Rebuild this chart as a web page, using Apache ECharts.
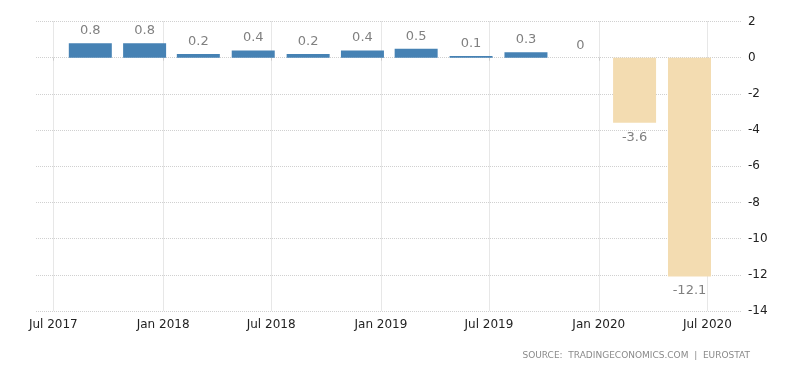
<!DOCTYPE html>
<html><head><meta charset="utf-8">
<script src="https://cdn.jsdelivr.net/npm/echarts@6/dist/echarts.min.js"></script>
<style>html,body{margin:0;padding:0;background:#fff}#c{width:800px;height:373px}</style>
</head><body><div id="c"></div>
<script>
var quarters = ['2017-09-01','2017-12-01','2018-03-01','2018-06-01','2018-09-01','2018-12-01','2019-03-01','2019-06-01','2019-09-01','2019-12-01','2020-03-01','2020-06-01'];
var values = [0.8,0.8,0.2,0.4,0.2,0.4,0.5,0.1,0.3,0,-3.6,-12.1];
var highlighted = [false,false,false,false,false,false,false,false,false,false,true,true];
var xTickDates = ['2017-07-01','2018-01-01','2018-07-01','2019-01-01','2019-07-01','2020-01-01','2020-07-01'];
var yTicks = [2,0,-2,-4,-6,-8,-10,-12,-14];
var sourceText = 'SOURCE:  TRADINGECONOMICS.COM  |  EUROSTAT';

var months = ['Jan','Feb','Mar','Apr','May','Jun','Jul','Aug','Sep','Oct','Nov','Dec'];
function ts(d){return new Date(d+'T00:00:00Z').getTime();}
var tickTs = xTickDates.map(ts);
var data = quarters.map(function(q,i){
  var v = values[i];
  return {
    value:[ts(q), v],
    itemStyle:{color: highlighted[i] ? '#f3dcb1' : '#4682b4'},
    label:{position: v < 0 ? 'bottom' : 'top', distance: v < 0 ? 8 : 6}
  };
});
var chart = echarts.init(document.getElementById('c'), null, {renderer:'canvas'});
chart.setOption({
  animation:false,
  grid:{left:36,right:58,top:21.5,bottom:62,containLabel:false},
  xAxis:{
    type:'value',
    min:ts('2017-06-02'),
    max:ts('2020-08-28'),
    axisLine:{show:false},
    axisTick:{show:true,customValues:tickTs,length:3,lineStyle:{color:'#ccc'}},
    axisLabel:{customValues:tickTs,color:'#222',fontSize:12,fontFamily:'DejaVu Sans',margin:8,
      formatter:function(v){var d=new Date(v);return months[d.getUTCMonth()]+' '+d.getUTCFullYear();}},
    splitLine:{show:true,lineStyle:{color:'#d0d0d0',type:'dotted',width:1}}
  },
  yAxis:{
    type:'value',position:'right',min:yTicks[yTicks.length-1],max:yTicks[0],interval:2,
    axisLine:{show:false},axisTick:{show:false},
    axisLabel:{color:'#222',fontSize:12,fontFamily:'DejaVu Sans',margin:6},
    splitLine:{show:true,lineStyle:{color:'#d0d0d0',type:'dotted',width:1}}
  },
  series:[{
    type:'bar',data:data,barWidth:43,
    label:{show:true,color:'#808080',fontSize:13,fontFamily:'DejaVu Sans',
      formatter:function(p){return String(p.value[1]);}}
  }],
  graphic:[{type:'text',right:50,top:351,style:{text:sourceText,fill:'#8a8a8a',font:'9px "DejaVu Sans"'}}]
});
</script></body></html>
